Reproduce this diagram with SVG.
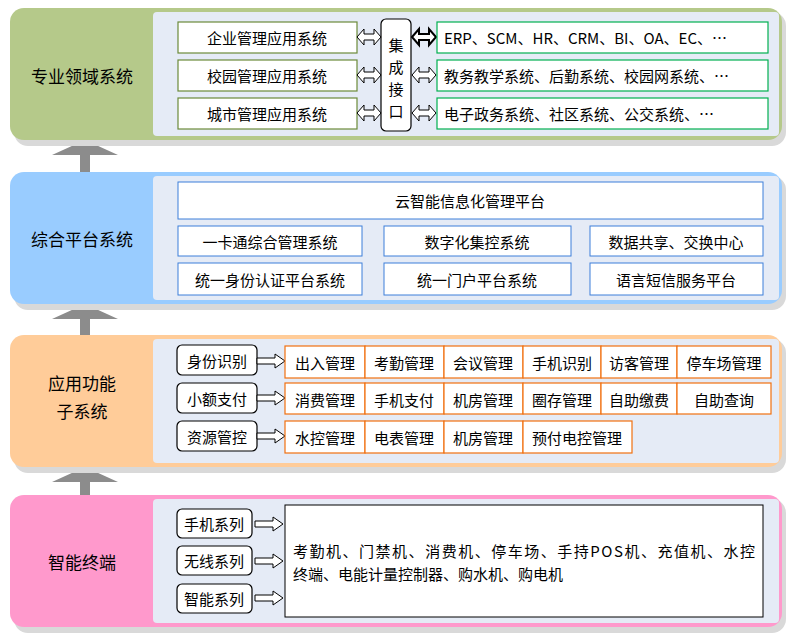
<svg xmlns="http://www.w3.org/2000/svg" width="797" height="641" viewBox="0 0 797 641">
<defs>
<style>
text{font-family:"Noto Sans CJK SC","Liberation Sans",sans-serif;font-size:15px;fill:#000;text-anchor:middle;dominant-baseline:central}
.s{text-anchor:start}
.lbl{font-size:17px}
.inner{fill:#e5ebf6}
.g{fill:#fff;stroke:#6b8a3a;stroke-width:1.2}
.gg{fill:#fff;stroke:#00b050;stroke-width:1.2}
.b{fill:#fff;stroke:#3d7fd9;stroke-width:1}
.o{fill:#fff;stroke:#f07010;stroke-width:1.2}
.k{fill:#fff;stroke:#000;stroke-width:1.2}
.arr{fill:#fff;stroke:#000;stroke-width:1}
.up{fill:#8c8c8c}
.sh{fill:#d9d9d9}
</style>
<path id="ra" d="M0,-3 H18 V-7 L28,0 L18,7 V3 H0 Z"/>
<path id="da" d="M0,0 L7,-8 V-3 H17 V-8 L24,0 L17,8 V3 H7 V8 Z"/>
</defs>
<g id="connectors">
<path class="up" d="M80,172 V155 H52 L85,140 L118,155 H90 V172 Z"/>
<path class="up" d="M80,336 V319 H52 L85,304 L118,319 H90 V336 Z"/>
<path class="up" d="M80,497 V482 H52 L85,467 L118,482 H90 V497 Z"/>
</g>
<g id="panel1">
<rect class="sh" x="14" y="12" width="772" height="134" rx="14"/>
<rect x="10" y="8" width="772" height="132" rx="14" fill="#b5c98a"/>
<rect class="inner" x="153" y="12" width="626" height="124" rx="4"/>
<text class="lbl" x="82" y="75">专业领域系统</text>
<rect class="g" x="178" y="22" width="179" height="31"/><text x="267" y="37">企业管理应用系统</text>
<rect class="g" x="178" y="60" width="179" height="31"/><text x="267" y="75">校园管理应用系统</text>
<rect class="g" x="178" y="98" width="179" height="31"/><text x="267" y="113">城市管理应用系统</text>
<rect class="k" x="381" y="19" width="30" height="112" rx="5"/>
<text x="396" y="44">集</text><text x="396" y="66">成</text><text x="396" y="88">接</text><text x="396" y="110">口</text>
<use href="#da" class="arr" x="357" y="37"/><use href="#da" class="arr" x="357" y="75"/><use href="#da" class="arr" x="357" y="113"/>
<use href="#da" class="arr" x="412" y="37" style="stroke-width:2"/><use href="#da" class="arr" x="412" y="75"/><use href="#da" class="arr" x="412" y="113"/>
<rect class="gg" x="437" y="22" width="331" height="31"/><text class="s" x="444" y="37">ERP、SCM、HR、CRM、BI、OA、EC、…</text>
<rect class="gg" x="437" y="60" width="331" height="31"/><text class="s" x="444" y="75">教务教学系统、后勤系统、校园网系统、…</text>
<rect class="gg" x="437" y="98" width="331" height="31"/><text class="s" x="444" y="113">电子政务系统、社区系统、公交系统、…</text>
</g>
<g id="panel2">
<rect class="sh" x="14" y="176" width="772" height="134" rx="14"/>
<rect x="10" y="172" width="772" height="132" rx="14" fill="#99ccff"/>
<rect class="inner" x="153" y="176" width="626" height="124" rx="4"/>
<text class="lbl" x="82" y="238">综合平台系统</text>
<rect class="b" x="178" y="182" width="585" height="37"/><text x="470" y="200">云智能信息化管理平台</text>
<rect class="b" x="178" y="226" width="184" height="30"/><text x="270" y="241">一卡通综合管理系统</text>
<rect class="b" x="384" y="226" width="187" height="30"/><text x="477" y="241">数字化集控系统</text>
<rect class="b" x="590" y="226" width="173" height="30"/><text x="676" y="241">数据共享、交换中心</text>
<rect class="b" x="178" y="263" width="184" height="32"/><text x="270" y="279">统一身份认证平台系统</text>
<rect class="b" x="384" y="263" width="187" height="32"/><text x="477" y="279">统一门户平台系统</text>
<rect class="b" x="590" y="263" width="173" height="32"/><text x="676" y="279">语言短信服务平台</text>
</g>
<g id="panel3">
<rect class="sh" x="14" y="339" width="772" height="134" rx="14"/>
<rect x="10" y="335" width="772" height="132" rx="14" fill="#ffcc99"/>
<rect class="inner" x="153" y="339" width="626" height="124" rx="4"/>
<text class="lbl" x="82" y="382">应用功能</text><text class="lbl" x="82" y="410">子系统</text>
<rect class="k" x="177" y="345" width="80" height="30" rx="5"/><text x="217" y="360">身份识别</text>
<rect class="k" x="177" y="383" width="80" height="30" rx="5"/><text x="217" y="398">小额支付</text>
<rect class="k" x="177" y="421" width="80" height="30" rx="5"/><text x="217" y="436">资源管控</text>
<use href="#ra" class="arr" x="257" y="361"/><use href="#ra" class="arr" x="257" y="398"/><use href="#ra" class="arr" x="257" y="436"/>
<rect class="o" x="285" y="346" width="80" height="32"/><text x="325" y="362">出入管理</text>
<rect class="o" x="365" y="346" width="79" height="32"/><text x="404" y="362">考勤管理</text>
<rect class="o" x="444" y="346" width="79" height="32"/><text x="483" y="362">会议管理</text>
<rect class="o" x="523" y="346" width="78" height="32"/><text x="562" y="362">手机识别</text>
<rect class="o" x="601" y="346" width="76" height="32"/><text x="639" y="362">访客管理</text>
<rect class="o" x="677" y="346" width="94" height="32"/><text x="724" y="362">停车场管理</text>
<rect class="o" x="285" y="383" width="80" height="31"/><text x="325" y="399">消费管理</text>
<rect class="o" x="365" y="383" width="79" height="31"/><text x="404" y="399">手机支付</text>
<rect class="o" x="444" y="383" width="79" height="31"/><text x="483" y="399">机房管理</text>
<rect class="o" x="523" y="383" width="78" height="31"/><text x="562" y="399">圈存管理</text>
<rect class="o" x="601" y="383" width="76" height="31"/><text x="639" y="399">自助缴费</text>
<rect class="o" x="677" y="383" width="94" height="31"/><text x="724" y="399">自助查询</text>
<rect class="o" x="285" y="421" width="80" height="32"/><text x="325" y="437">水控管理</text>
<rect class="o" x="365" y="421" width="79" height="32"/><text x="404" y="437">电表管理</text>
<rect class="o" x="444" y="421" width="79" height="32"/><text x="483" y="437">机房管理</text>
<rect class="o" x="523" y="421" width="109" height="32"/><text x="577" y="437">预付电控管理</text>
</g>
<g id="panel4">
<rect class="sh" x="14" y="499" width="772" height="134" rx="14"/>
<rect x="10" y="495" width="772" height="132" rx="14" fill="#ff99cc"/>
<rect class="inner" x="153" y="499" width="626" height="124" rx="4"/>
<text class="lbl" x="82" y="561">智能终端</text>
<rect class="k" x="177" y="509" width="75" height="29" rx="5"/><text x="214" y="523">手机系列</text>
<rect class="k" x="177" y="546" width="75" height="29" rx="5"/><text x="214" y="560">无线系列</text>
<rect class="k" x="177" y="584" width="75" height="29" rx="5"/><text x="214" y="598">智能系列</text>
<use href="#ra" class="arr" x="255" y="524"/><use href="#ra" class="arr" x="255" y="561"/><use href="#ra" class="arr" x="255" y="598"/>
<rect class="k" x="285" y="505" width="478" height="112" style="stroke-width:1"/>
<text class="s" x="293" y="550" textLength="462">考勤机、门禁机、消费机、停车场、手持POS机、充值机、水控</text>
<text class="s" x="293" y="573">终端、电能计量控制器、购水机、购电机</text>
</g>
</svg>
